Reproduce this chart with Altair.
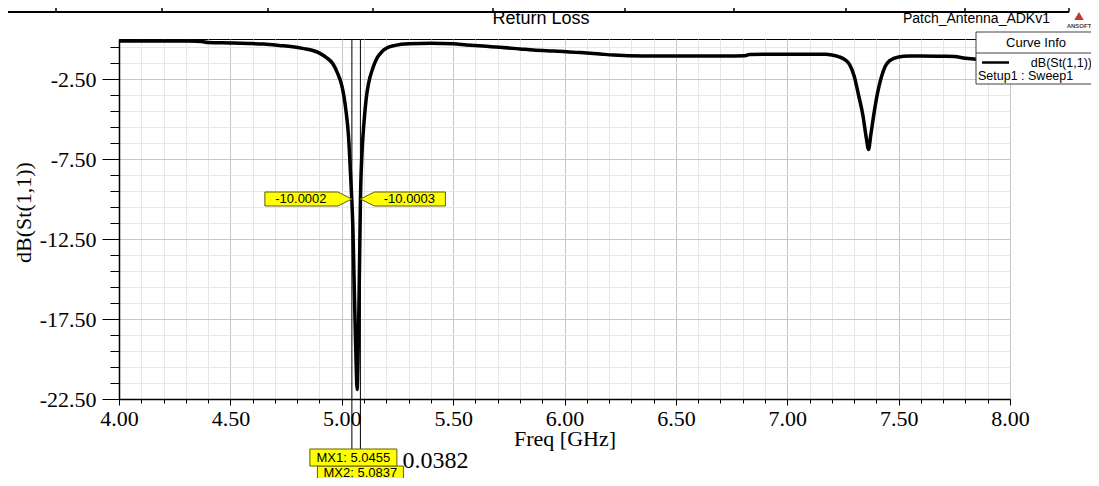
import altair as alt
import pandas as pd

# ---------------- data ----------------
freq_ghz = [4.00, 4.10, 4.20, 4.30, 4.37, 4.40, 4.50, 4.58, 4.65, 4.72, 4.78, 4.83,
            4.87, 4.90, 4.93, 4.96, 4.98, 5.00, 5.01, 5.02, 5.03, 5.04, 5.045, 5.05,
            5.055, 5.06, 5.065, 5.069, 5.073, 5.077, 5.081, 5.084, 5.09, 5.10, 5.11,
            5.12, 5.14, 5.16, 5.18, 5.20, 5.24, 5.30, 5.40, 5.50, 5.56, 5.65, 5.71,
            5.80, 5.86, 5.95, 6.01, 6.10, 6.16, 6.22, 6.35, 6.50, 6.70, 6.81, 6.83,
            6.90, 7.00, 7.10, 7.17, 7.20, 7.23, 7.26, 7.28, 7.30, 7.32, 7.34, 7.355,
            7.365, 7.375, 7.39, 7.405, 7.42, 7.44, 7.46, 7.50, 7.55, 7.60, 7.70, 7.75,
            7.80, 7.85, 7.90, 8.00]
s11_db = [-0.12, -0.12, -0.12, -0.13, -0.15, -0.22, -0.25, -0.28, -0.32, -0.40, -0.48, -0.60,
          -0.72, -0.88, -1.15, -1.55, -2.1, -2.9, -3.6, -4.6, -6.0, -8.6, -10.0, -11.8,
          -14.8, -17.8, -20.5, -21.9, -20.0, -16.8, -12.9, -10.0, -7.4, -5.2, -3.7,
          -2.8, -1.8, -1.15, -0.8, -0.58, -0.40, -0.30, -0.27, -0.30, -0.37, -0.46, -0.52,
          -0.62, -0.69, -0.75, -0.79, -0.88, -0.94, -1.0, -1.06, -1.06, -1.06, -1.05, -0.97,
          -0.96, -0.96, -0.96, -0.96, -1.0, -1.1, -1.3, -1.6, -2.3, -3.5, -4.8, -6.2,
          -6.9, -6.0, -4.6, -3.4, -2.5, -1.7, -1.35, -1.12, -1.07, -1.06, -1.08, -1.1,
          -1.2, -1.26, -1.28, -1.3]

marker_names = ["MX1", "MX2"]
marker_freq = [5.0455, 5.0837]
marker_db = [-10.0002, -10.0003]
marker_delta = "0.0382"

x_major = [4.0, 4.5, 5.0, 5.5, 6.0, 6.5, 7.0, 7.5, 8.0]
x_minor = [4.1, 4.2, 4.3, 4.4, 4.6, 4.7, 4.8, 4.9, 5.1, 5.2, 5.3, 5.4, 5.6, 5.7, 5.8, 5.9,
           6.1, 6.2, 6.3, 6.4, 6.6, 6.7, 6.8, 6.9, 7.1, 7.2, 7.3, 7.4, 7.6, 7.7, 7.8, 7.9]
y_major = [-22.5, -17.5, -12.5, -7.5, -2.5]
y_minor = [-21.5, -20.5, -19.5, -18.5, -16.5, -15.5, -14.5, -13.5, -11.5, -10.5, -9.5,
           -8.5, -6.5, -5.5, -4.5, -3.5, -1.5, -0.5]

chart_title = "Return Loss"
project_name = "Patch_Antenna_ADKv1"
logo_text = "ANSOFT"
x_title = "Freq [GHz]"
y_title = "dB(St(1,1))"
legend_title = "Curve Info"
legend_trace = "dB(St(1,1))"
legend_setup = "Setup1 : Sweep1"

# ---------------- tables ----------------
df = pd.DataFrame({"freq": freq_ghz, "db": s11_db})
df_m = pd.DataFrame({
    "name": marker_names,
    "freq": marker_freq,
    "db": marker_db,
    "value_text": [f"{v:.4f}" for v in marker_db],
    "mx_text": [f"{n}: {f:.4f}" for n, f in zip(marker_names, marker_freq)],
})

SANS = "Liberation Sans"
SERIF = "Liberation Serif"
YELLOW = "#ffff00"
OLIVE = "#5e5e00"
LABEL_EXPR = "replace(format(datum.value, '.2f'), '\u2212', '-')"

xs = alt.Scale(domain=[4, 8], nice=False, zero=False)
ys = alt.Scale(domain=[-22.5, 0], nice=False, zero=False)

x_minor_axis = alt.Axis(orient="bottom", values=x_minor, grid=True, gridColor="#e6e6e6",
                        gridWidth=1, ticks=True, tickSize=4, tickColor="black",
                        labels=False, domain=False, title=None)
y_minor_axis = alt.Axis(orient="left", values=y_minor, grid=True, gridColor="#e6e6e6",
                        gridWidth=1, ticks=True, tickSize=9, tickColor="black",
                        labels=False, domain=False, title=None)
x_major_axis = alt.Axis(orient="bottom", values=x_major, labelExpr=LABEL_EXPR, grid=True,
                        gridColor="#c6c6c6", gridWidth=1, tickSize=6, tickColor="black",
                        domain=True, domainColor="black", domainWidth=1.5, labelFont=SERIF,
                        labelFontSize=22, labelColor="black", labelPadding=3,
                        labelFlush=False, labelOverlap=False, title=x_title,
                        titleFont=SERIF, titleFontSize=22, titleFontWeight="normal",
                        titleColor="black", titleY=39, titleBaseline="middle")
y_major_axis = alt.Axis(orient="left", values=y_major, labelExpr=LABEL_EXPR, grid=True,
                        gridColor="#c6c6c6", gridWidth=1, tickSize=17, tickColor="black",
                        domain=True, domainColor="black", domainWidth=1.5, labelFont=SERIF,
                        labelFontSize=22, labelColor="black", labelPadding=6,
                        labelFlush=False, labelOverlap=False, title=y_title,
                        titleFont=SERIF, titleFontSize=22, titleFontWeight="normal",
                        titleColor="black", titleX=-96, titleY=173, titleAngle=270,
                        titleAlign="center", titleBaseline="middle")

minor_carrier = alt.Chart(df).mark_line(opacity=0).encode(
    x=alt.X("freq:Q", scale=xs, axis=x_minor_axis),
    y=alt.Y("db:Q", scale=ys, axis=y_minor_axis),
)

curve = alt.Chart(df).mark_line(color="black", strokeWidth=3.5, interpolate="monotone").encode(
    x=alt.X("freq:Q", scale=xs, axis=x_major_axis),
    y=alt.Y("db:Q", scale=ys, axis=y_major_axis),
)

mx_x = alt.X("freq:Q", scale=xs, axis=None)
mx_y = alt.Y("db:Q", scale=ys, axis=None)

marker_lines = alt.Chart(df_m).mark_rule(color="black", strokeWidth=1).encode(
    x=mx_x, y=alt.value(0), y2=alt.value(427)
)

LEFT_TAG = "M0,0 L-14,-7 L-87,-7 L-87,7 L-14,7 Z"
RIGHT_TAG = "M0,0 L14,-7 L85,-7 L85,7 L14,7 Z"
MX1_BOX = "M-42,-8.5 L45,-8.5 L45,8.5 L-42,8.5 Z"
MX2_BOX = "M-43,-8.5 L43,-8.5 L43,8.5 L-43,8.5 Z"

tag_style = dict(size=4, filled=True, fill=YELLOW, stroke=OLIVE, strokeWidth=1,
                 opacity=1, fillOpacity=1)

m1 = alt.Chart(df_m).transform_filter(alt.datum.name == "MX1")
m2 = alt.Chart(df_m).transform_filter(alt.datum.name == "MX2")

tag1 = m1.mark_point(shape=LEFT_TAG, **tag_style).encode(x=mx_x, y=mx_y)
tag1_t = m1.mark_text(dx=-51, font=SANS, fontSize=13, color="black",
                      align="center", baseline="middle").encode(x=mx_x, y=mx_y, text="value_text:N")
tag2 = m2.mark_point(shape=RIGHT_TAG, **tag_style).encode(x=mx_x, y=mx_y)
tag2_t = m2.mark_text(dx=49, font=SANS, fontSize=13, color="black",
                      align="center", baseline="middle").encode(x=mx_x, y=mx_y, text="value_text:N")

box2 = m2.mark_point(shape=MX2_BOX, **tag_style).encode(x=mx_x, y=alt.value(435.5))
box2_t = m2.mark_text(font=SANS, fontSize=13, color="black", align="center",
                      baseline="middle").encode(x=mx_x, y=alt.value(434), text="mx_text:N")
box1 = m1.mark_point(shape=MX1_BOX, **tag_style).encode(x=mx_x, y=alt.value(418.5))
box1_t = m1.mark_text(dx=1.5, font=SANS, fontSize=13, color="black", align="center",
                      baseline="middle").encode(x=mx_x, y=alt.value(418.5), text="mx_text:N")
delta_t = m2.mark_text(dx=42, font=SERIF, fontSize=24, color="black", align="left",
                       baseline="middle").encode(x=mx_x, y=alt.value(422),
                                                 text=alt.value(marker_delta))

one = pd.DataFrame({"k": [0]})

# header texts
title_t = alt.Chart(one).mark_text(font=SANS, fontSize=18, color="black", align="center",
                                   baseline="middle").encode(
    x=alt.value(422), y=alt.value(-20), text=alt.value(chart_title))
proj_t = alt.Chart(one).mark_text(font=SANS, fontSize=14, color="black", align="right",
                                  baseline="middle").encode(
    x=alt.value(931), y=alt.value(-20), text=alt.value(project_name))
logo_tri = alt.Chart(one).mark_point(shape="triangle-up", filled=True, size=90,
                                     color="#c0392b", opacity=1).encode(
    x=alt.value(960), y=alt.value(-23))
logo_t = alt.Chart(one).mark_text(font=SANS, fontSize=6, fontWeight="bold", color="#444444",
                                  align="center", baseline="middle").encode(
    x=alt.value(960), y=alt.value(-13), text=alt.value(logo_text))

# partial table row at the very top
top_layers = [alt.Chart(one).mark_rule(color="black", strokeWidth=2).encode(
    x=alt.value(-111), x2=alt.value(950), y=alt.value(-27))]
for vx in [-63, 43, 149, 254, 374, 506, 615, 727, 846, 950]:
    top_layers.append(alt.Chart(one).mark_rule(color="black", strokeWidth=1.5).encode(
        x=alt.value(vx), y=alt.value(-32), y2=alt.value(-27)))

# legend box ("Curve Info")
leg_box = alt.Chart(one).mark_rect(fill="white", stroke="#404040", strokeWidth=1).encode(
    x=alt.value(857), x2=alt.value(977), y=alt.value(-7), y2=alt.value(45))
leg_sep = alt.Chart(one).mark_rule(color="#404040", strokeWidth=1).encode(
    x=alt.value(857), x2=alt.value(977), y=alt.value(14))
leg_title = alt.Chart(one).mark_text(font=SANS, fontSize=13, color="black", align="center",
                                     baseline="middle").encode(
    x=alt.value(917), y=alt.value(3.5), text=alt.value(legend_title))
leg_sym = alt.Chart(one).mark_rule(color="black", strokeWidth=2.5).encode(
    x=alt.value(863), x2=alt.value(890), y=alt.value(23.5))
leg_trace = alt.Chart(one).mark_text(font=SANS, fontSize=12.5, color="black", align="right",
                                     baseline="middle").encode(
    x=alt.value(973), y=alt.value(24), text=alt.value(legend_trace))
leg_setup = alt.Chart(one).mark_text(font=SANS, fontSize=12.5, color="black", align="left",
                                     baseline="middle").encode(
    x=alt.value(859), y=alt.value(37), text=alt.value(legend_setup))

chart = alt.layer(
    minor_carrier, curve, marker_lines,
    tag1, tag1_t, tag2, tag2_t,
    box2, box2_t, box1, box1_t, delta_t,
    title_t, proj_t, logo_tri, logo_t,
    *top_layers,
    leg_box, leg_sep, leg_title, leg_sym, leg_trace, leg_setup,
).resolve_axis(x="independent", y="independent").properties(
    width=891, height=360,
    autosize=alt.AutoSizeParams(type="none"),
    padding={"left": 111, "top": 31, "right": 81, "bottom": 79},
    background="white",
).configure_view(stroke="black", strokeWidth=1)

chart.save("out.html", embed_options={"renderer": "svg", "actions": False})
